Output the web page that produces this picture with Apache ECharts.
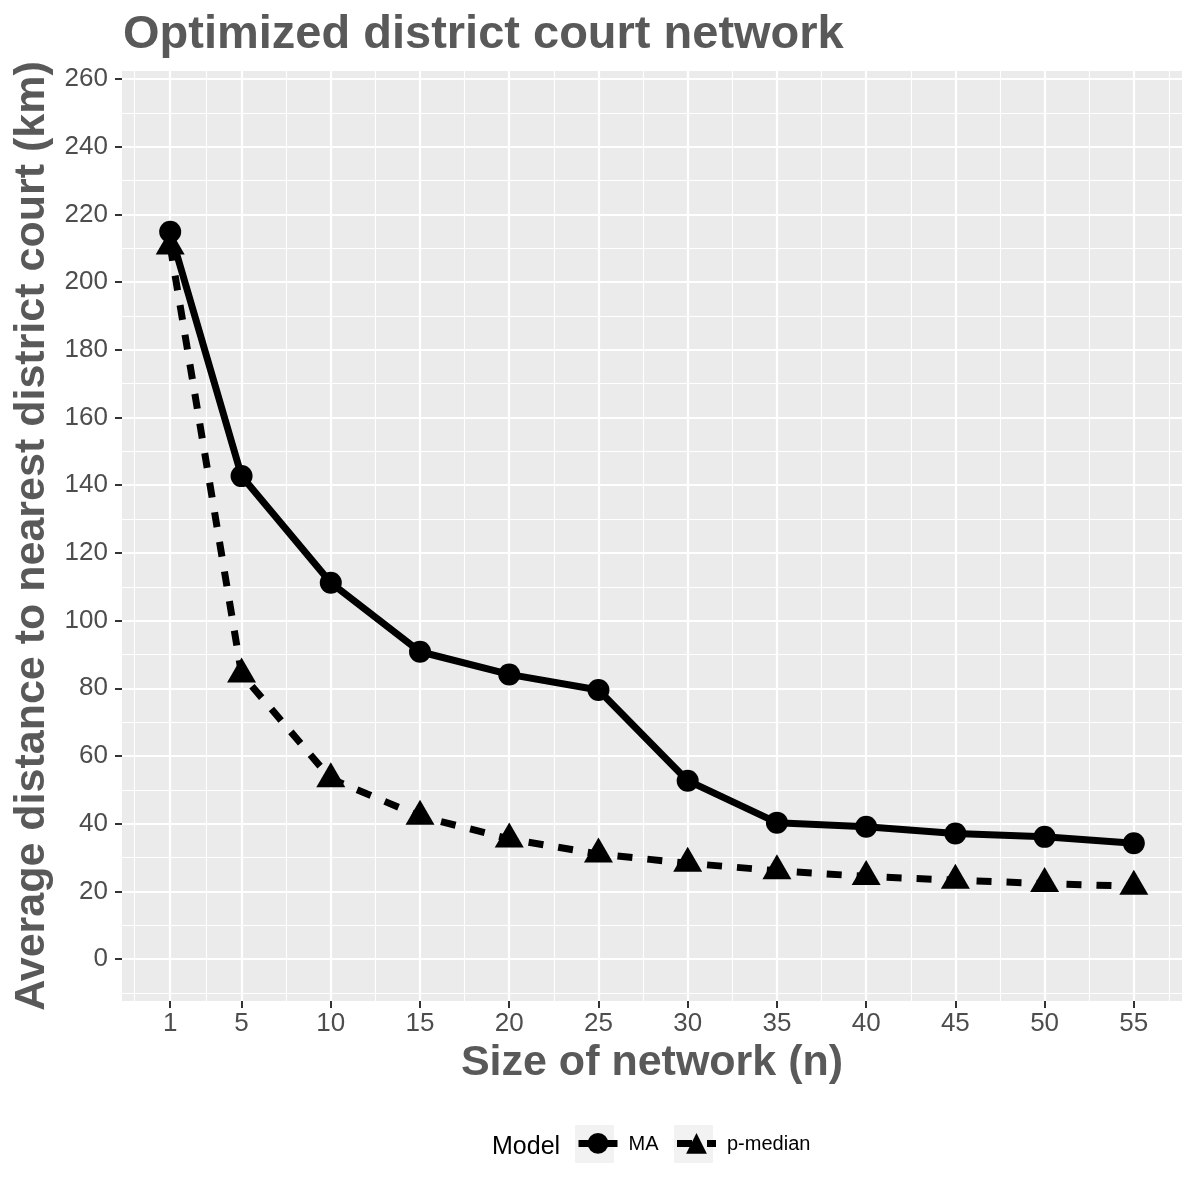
<!DOCTYPE html>
<html>
<head>
<meta charset="utf-8">
<script src="https://cdn.jsdelivr.net/npm/echarts@6/dist/echarts.min.js"></script>
<style>
html,body{margin:0;padding:0;background:#fff;}
#chart{width:1200px;height:1178px;}
</style>
</head>
<body>
<div id="chart"></div>
<script>
// ---- data ----
const networkSize = [1, 5, 10, 15, 20, 25, 30, 35, 40, 45, 50, 55];
const maValues = [214.9, 142.7, 111.2, 90.8, 84.1, 79.5, 52.7, 40.3, 39.1, 37.1, 36.1, 34.2];
const pMedianValues = [210.7, 84.2, 53.3, 42.2, 35.5, 31.0, 28.3, 26.1, 24.4, 23.3, 22.3, 21.5];
const xTickValues = [1, 5, 10, 15, 20, 25, 30, 35, 40, 45, 50, 55];
const xMinorValues = [-1, 3, 7.5, 12.5, 17.5, 22.5, 27.5, 32.5, 37.5, 42.5, 47.5, 52.5, 57];
const yTickValues = [0, 20, 40, 60, 80, 100, 120, 140, 160, 180, 200, 220, 240, 260];
const yMinorValues = [-10, 10, 30, 50, 70, 90, 110, 130, 150, 170, 190, 210, 230, 250];
const seriesNames = ['MA', 'p-median'];

const FONT = "'Liberation Sans', Arial, sans-serif";
const X_MIN = -1.7, X_MAX = 57.7, Y_MIN = -12.4, Y_MAX = 262.4;

const chart = echarts.init(document.getElementById('chart'), null, {renderer: 'canvas'});

function pairs(xs, ys) { return xs.map((x, i) => [x, ys[i]]); }

const option = {
  animation: false,
  backgroundColor: '#ffffff',
  title: {
    text: 'Optimized district court network',
    left: 123, top: 12, padding: 0,
    textStyle: {fontFamily: FONT, fontSize: 47, fontWeight: 'bold', color: '#595959'}
  },
  grid: {
    left: 122, top: 71, width: 1060, height: 930,
    show: true, backgroundColor: '#EBEBEB', borderWidth: 0,
    containLabel: false
  },
  legend: {
    data: seriesNames,
    left: 575, top: 1133, padding: 0,
    orient: 'horizontal',
    itemWidth: 39, itemHeight: 26, itemGap: 15,
    lineStyle: {width: 7},
    formatter: name => '{t|' + name + '}',
    textStyle: {
      fontFamily: FONT, fontSize: 20, color: '#000',
      rich: {t: {fontFamily: FONT, fontSize: 20, color: '#000', padding: [2, 0, 0, 6]}}
    }
  },
  graphic: [
    {type: 'rect', z: -1, shape: {x: 575, y: 1125, width: 39, height: 38}, style: {fill: '#F2F2F2'}},
    {type: 'rect', z: -1, shape: {x: 674, y: 1125, width: 39, height: 38}, style: {fill: '#F2F2F2'}},
    {type: 'text', left: 492, top: 1135, style: {text: 'Model', font: '25px ' + FONT, fill: '#000'}}
  ],
  xAxis: [
    {
      type: 'value', min: X_MIN, max: X_MAX, gridIndex: 0,
      name: 'Size of network (n)', nameLocation: 'middle', nameGap: 38,
      nameTextStyle: {fontFamily: FONT, fontSize: 43, fontWeight: 'bold', color: '#595959'},
      axisLine: {show: false, onZero: false},
      axisTick: {show: true, length: 7, lineStyle: {color: '#333333', width: 2}, customValues: xTickValues},
      axisLabel: {show: true, margin: 10, fontFamily: FONT, fontSize: 26, color: '#4D4D4D', customValues: xTickValues},
      splitLine: {show: true, lineStyle: {color: '#ffffff', width: 2.2}},
      z: 2
    },
    {
      type: 'value', min: X_MIN, max: X_MAX, gridIndex: 0, position: 'bottom',
      axisLine: {show: false, onZero: false}, axisLabel: {show: false},
      axisTick: {show: false, customValues: xMinorValues},
      splitLine: {show: true, lineStyle: {color: '#ffffff', width: 1.1}},
      z: 1
    }
  ],
  yAxis: [
    {
      type: 'value', min: Y_MIN, max: Y_MAX, gridIndex: 0,
      name: 'Average distance to nearest district court (km)', nameLocation: 'middle', nameGap: 64,
      nameTextStyle: {fontFamily: FONT, fontSize: 43, fontWeight: 'bold', color: '#595959'},
      axisLine: {show: false, onZero: false},
      axisTick: {show: true, length: 7, lineStyle: {color: '#333333', width: 2}, customValues: yTickValues},
      axisLabel: {show: true, margin: 14, fontFamily: FONT, fontSize: 26, color: '#4D4D4D', customValues: yTickValues},
      splitLine: {show: true, lineStyle: {color: '#ffffff', width: 2.2}},
      z: 2
    },
    {
      type: 'value', min: Y_MIN, max: Y_MAX, gridIndex: 0, position: 'left',
      axisLine: {show: false, onZero: false}, axisLabel: {show: false},
      axisTick: {show: false, customValues: yMinorValues},
      splitLine: {show: true, lineStyle: {color: '#ffffff', width: 1.1}},
      z: 1
    }
  ],
  series: [
    {
      name: seriesNames[0], type: 'line', xAxisIndex: 0, yAxisIndex: 0,
      data: pairs(networkSize, maValues),
      symbol: 'circle', symbolSize: 22,
      lineStyle: {color: '#000', width: 7, type: 'solid', cap: 'butt', join: 'round'},
      itemStyle: {color: '#000'},
      z: 3
    },
    {
      name: seriesNames[1], type: 'line', xAxisIndex: 0, yAxisIndex: 0,
      data: pairs(networkSize, pMedianValues),
      symbol: 'triangle', symbolSize: [29, 25], symbolOffset: [0, -4],
      lineStyle: {color: '#000', width: 7, type: [15, 15], cap: 'butt', join: 'round'},
      itemStyle: {color: '#000'},
      z: 3
    }
  ]
};
chart.setOption(option);
</script>
</body>
</html>
